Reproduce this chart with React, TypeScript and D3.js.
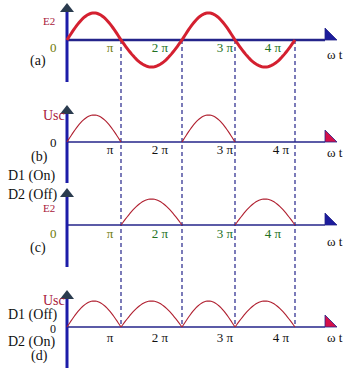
import React from "react";
import * as d3 from "d3";

// ---- data ----
const PI = Math.PI;
const tickValues = [PI, 2 * PI, 3 * PI, 4 * PI];
const tickLabels = ["π", "2 π", "3 π", "4 π"];
// signed amplitude of each half cycle (0 = absent)
const waveA = [1, -1, 1, -1]; // E2
const waveB = [1, 0, 1, 0]; // Usc, D1 on
const waveC = [0, 1, 0, 1]; // E2 through D2
const waveD = [1, 1, 1, 1]; // Usc full wave

const W = 354;
const H = 372;
const x = d3
  .scaleLinear()
  .domain([0, PI, 2 * PI, 3 * PI, 4 * PI])
  .range([67, 121, 182, 235, 295]);
const xAxisEnd = 325;
const AX = 67;

type Panel = {
  wave: number[];
  axisY: number;
  amp: number;
  thick: boolean;
  colored: boolean;
  arrowFill: string;
  vTop: number;
  vBottom: number;
  labelDy: number;
  wtDy: number;
  labelDx: number[];
};

const panels: Panel[] = [
  { wave: waveA, axisY: 40, amp: 27, thick: true, colored: true, arrowFill: "#1c1c9c", vTop: 3, vBottom: 82, labelDy: 12, wtDy: 19, labelDx: [-11, -22, -10, -22] },
  { wave: waveB, axisY: 142, amp: 27, thick: false, colored: false, arrowFill: "#d4104a", vTop: 105, vBottom: 183, labelDy: 12, wtDy: 15, labelDx: [-11, -22, -10, -14] },
  { wave: waveC, axisY: 225, amp: 26, thick: false, colored: true, arrowFill: "#1c1c9c", vTop: 188, vBottom: 267, labelDy: 13, wtDy: 21, labelDx: [-11, -22, -10, -22] },
  { wave: waveD, axisY: 327, amp: 26, thick: false, colored: false, arrowFill: "#d4104a", vTop: 290, vBottom: 368, labelDy: 15, wtDy: 15, labelDx: [-11, -22, -10, -14] },
];

const serif = "Liberation Serif";
const navy = "#24248a";
const axisBlue = "#1c1ca8";
const arrowDark = "#2a3b4e";
const red = "#d42030";
const darkRed = "#a8203a";
const olive = "#6e7a08";
const green = "#217021";

function halfWavePath(p: Panel, i: number): string | null {
  const a = p.wave[i];
  if (a === 0) return null;
  const y = d3.scaleLinear().domain([-1, 1]).range([p.axisY + p.amp, p.axisY - p.amp]);
  const t0 = i * PI;
  const pts: [number, number][] = d3
    .range(0, 41)
    .map((k) => t0 + (k / 40) * PI)
    .map((t) => [x(t), y(a * Math.abs(Math.sin(t)))]);
  return d3.line()(pts);
}

function fullPath(p: Panel): string {
  const y = d3.scaleLinear().domain([-1, 1]).range([p.axisY + p.amp, p.axisY - p.amp]);
  const pts: [number, number][] = d3
    .range(0, 161)
    .map((k) => (k / 160) * 4 * PI)
    .map((t) => {
      const i = Math.min(3, Math.floor(t / PI));
      return [x(t), y(p.wave[i] * Math.abs(Math.sin(t)))];
    });
  return d3.line()(pts) as string;
}

const T = (props: any) => (
  <text {...props} style={{ fontFamily: serif }}>
    {props.children}
  </text>
);

export default function App() {
  const dashTop = panels[0].axisY;
  const dashBottom = panels[3].axisY;
  return (
    <svg
      width={W}
      height={H}
      style={{ position: "absolute", left: 0, top: 0, background: "#fff" }}
    >
      <rect x={0} y={0} width={W} height={H} fill="#fff" />
      {/* dashed guide lines */}
      {tickValues.map((v, i) => (
        <line
          key={"d" + i}
          x1={x(v)}
          x2={x(v)}
          y1={dashTop}
          y2={dashBottom}
          stroke={navy}
          strokeWidth={1.2}
          strokeDasharray="4,3"
        />
      ))}
      {panels.map((p, pi) => (
        <g key={pi}>
          {/* horizontal axis */}
          <line x1={AX} x2={xAxisEnd} y1={p.axisY} y2={p.axisY} stroke={navy} strokeWidth={p.thick ? 2.5 : 1.5} />
          <polygon
            points={`${xAxisEnd},${p.axisY - 12} ${xAxisEnd},${p.axisY} ${xAxisEnd + 12},${p.axisY}`}
            fill={p.arrowFill}
            stroke={navy}
            strokeWidth={0.8}
          />
          {/* vertical axis */}
          <line x1={AX} x2={AX} y1={p.vTop + 8} y2={p.vBottom} stroke={axisBlue} strokeWidth={3} />
          <polygon
            points={`${AX},${p.vTop} ${AX - 7},${p.vTop + 9} ${AX + 7},${p.vTop + 9}`}
            fill={arrowDark}
          />
          {/* waveform */}
          {p.thick ? (
            <path d={fullPath(p)} fill="none" stroke={red} strokeWidth={3} />
          ) : (
            p.wave.map((_, i) => {
              const d = halfWavePath(p, i);
              return d ? <path key={i} d={d} fill="none" stroke="#b02030" strokeWidth={1.1} /> : null;
            })
          )}
          {/* tick labels */}
          {tickValues.map((v, i) => (
            <T
              key={"t" + i}
              x={x(v) + p.labelDx[i]}
              y={p.axisY + p.labelDy}
              textAnchor="middle"
              fontSize={13}
              fill={p.colored ? (i === 0 ? olive : green) : "#111"}
            >
              {tickLabels[i]}
            </T>
          ))}
          <T x={327} y={p.axisY + p.wtDy} fontSize={13} fill="#111">
            ω t
          </T>
        </g>
      ))}
      {/* left-side labels */}
      <T x={43} y={25} fontSize={11} fill={darkRed}>E2</T>
      <T x={50} y={52} fontSize={13} fill={olive}>0</T>
      <T x={30} y={65} fontSize={14} fill="#111">(a)</T>

      <T x={43} y={120} fontSize={14} fill={darkRed}>Usc</T>
      <T x={50} y={147} fontSize={13} fill="#111">0</T>
      <T x={31} y={161} fontSize={14} fill="#111">(b)</T>
      <T x={8} y={180} fontSize={14} fill="#111">D1 (On)</T>
      <T x={8} y={199} fontSize={14} fill="#111">D2 (Off)</T>

      <T x={43} y={212} fontSize={11} fill={darkRed}>E2</T>
      <T x={50} y={238} fontSize={13} fill={olive}>0</T>
      <T x={30} y={252} fontSize={14} fill="#111">(c)</T>

      <T x={43} y={305} fontSize={14} fill={darkRed}>Usc</T>
      <T x={8} y={319} fontSize={14} fill="#111">D1 (Off)</T>
      <T x={50} y={333} fontSize={12} fill="#111">0</T>
      <T x={8} y={346} fontSize={14} fill="#111">D2 (On)</T>
      <T x={31} y={360} fontSize={14} fill="#111">(d)</T>
    </svg>
  );
}
